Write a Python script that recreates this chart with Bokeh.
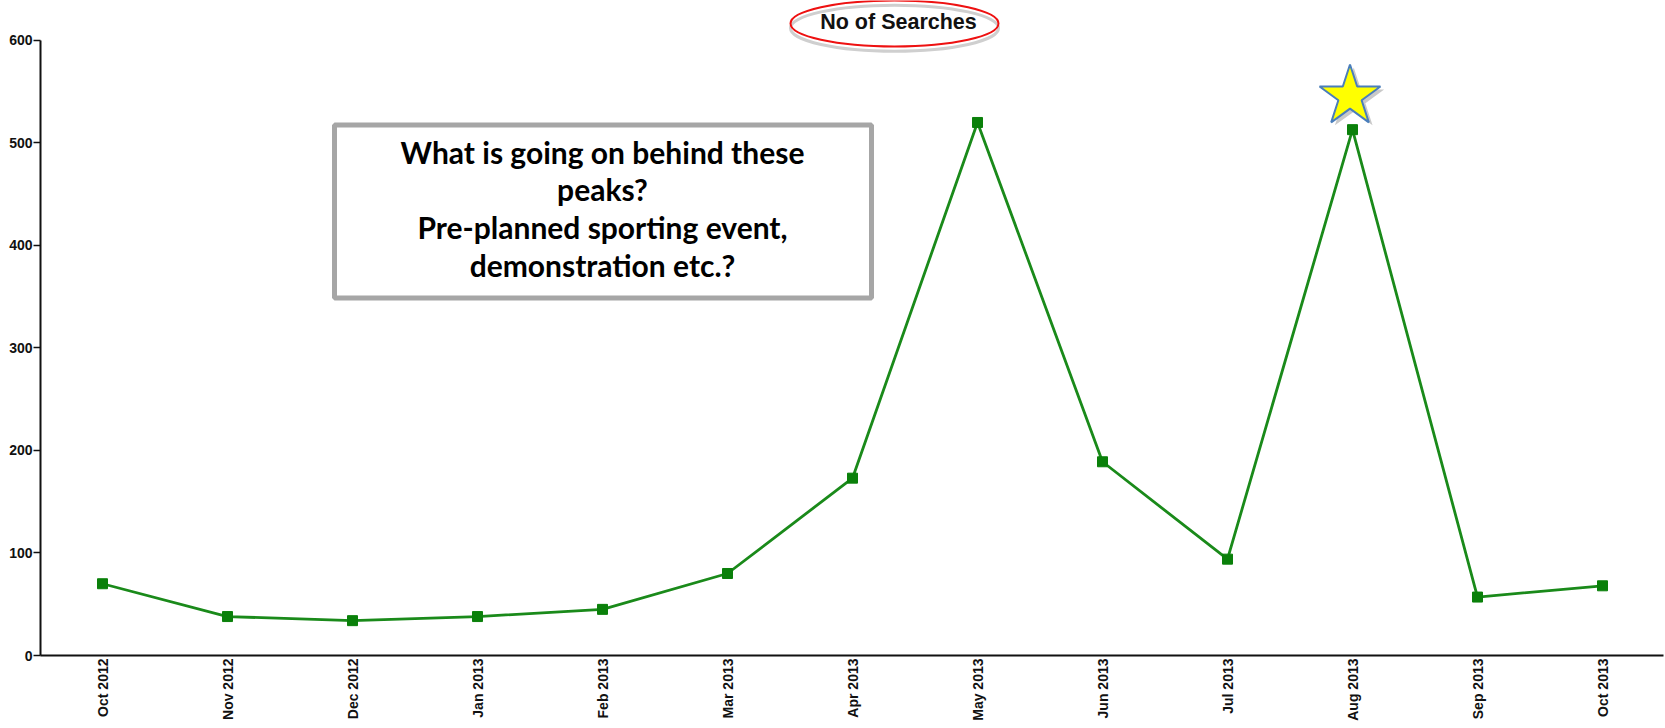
import math
from bokeh.plotting import figure
from bokeh.models import Range1d, FixedTicker, BoxAnnotation, Label
from bokeh.embed import file_html
from bokeh.resources import INLINE

months = ["Oct 2012", "Nov 2012", "Dec 2012", "Jan 2013", "Feb 2013", "Mar 2013",
          "Apr 2013", "May 2013", "Jun 2013", "Jul 2013", "Aug 2013", "Sep 2013", "Oct 2013"]
searches = [70, 38, 34, 38, 45, 80, 173, 520, 189, 94, 513, 57, 68]
y_ticks = [0, 100, 200, 300, 400, 500, 600]
title_text = "No of Searches"
note_lines = ["What is going on behind these", "peaks?",
              "Pre-planned sporting event,", "demonstration etc.?"]
highlight_month = "Aug 2013"

idx = list(range(len(months)))

p = figure(width=1665, height=728, output_backend="svg", toolbar_location=None,
           x_range=Range1d(-0.496, 12.488), y_range=Range1d(0, 639.0),
           min_border_left=40, min_border_right=2, min_border_top=0, min_border_bottom=73)
p.outline_line_color = None
p.xgrid.grid_line_color = None
p.ygrid.grid_line_color = None
p.background_fill_color = "white"

# x axis
xa = p.xaxis[0]
xa.ticker = FixedTicker(ticks=idx)
xa.major_label_overrides = {i: m for i, m in enumerate(months)}
xa.major_label_orientation = math.pi / 2
xa.major_tick_line_color = None
xa.minor_tick_line_color = None
xa.major_tick_in = 0
xa.major_tick_out = 0
xa.major_label_standoff = 3
# y axis
ya = p.yaxis[0]
ya.ticker = FixedTicker(ticks=y_ticks)
ya.bounds = (0, 600)
ya.major_tick_in = 0
ya.major_tick_out = 7
ya.minor_tick_line_color = None
ya.major_tick_line_color = "#111111"
ya.major_tick_line_width = 1.5
ya.major_label_standoff = 1
for ax in (xa, ya):
    ax.axis_line_width = 2
    ax.axis_line_color = "#111111"
    ax.major_label_text_font = "Liberation Sans"
    ax.major_label_text_font_style = "bold"
    ax.major_label_text_font_size = "14px"
    ax.major_label_text_color = "#111111"

# title with red ellipse
p.ellipse(x=[6.336], y=[612.0], width=1.664, height=44.9, fill_color=None,
          line_color="#cfcfcf", line_width=3)
p.ellipse(x=[6.336], y=[616.6], width=1.664, height=44.9, fill_color=None,
          line_color="#ee1111", line_width=2)
p.add_layout(Label(x=6.368, y=617.6, text=title_text, text_align="center", text_baseline="middle",
                   text_font="Liberation Sans", text_font_style="bold", text_font_size="21.5px",
                   text_color="#111111"))

# note box
p.add_layout(BoxAnnotation(left=1.856, right=6.152, top=517.6, bottom=348.8,
                           fill_color="white", fill_alpha=1.0,
                           line_color="#a6a6a6", line_alpha=1.0, line_width=5, level="underlay"))
for i, line in enumerate(note_lines):
    p.add_layout(Label(x=4.0, y=491.5 - i * 36.7, text=line, text_align="center",
                       text_baseline="alphabetic", text_font="Lato", text_font_style="bold",
                       text_font_size="30px", text_color="black"))

# data line
p.line(idx, searches, line_color="#1a8a1a", line_width=2.8)
p.scatter(idx, searches, marker="square", size=10, fill_color="#0a800a", line_color="#0a800a")

# star over the highlighted peak
hi = months.index(highlight_month)
p.scatter([hi + 0.01], [searches[hi] + 29.5], marker="star", size=64, fill_color="#888888",
          fill_alpha=0.45, line_color=None)
p.scatter([hi - 0.02], [searches[hi] + 32.4], marker="star", size=64, fill_color="yellow",
          line_color="#4a7ebb", line_width=2)

open("out.html", "w").write(file_html(p, INLINE))
